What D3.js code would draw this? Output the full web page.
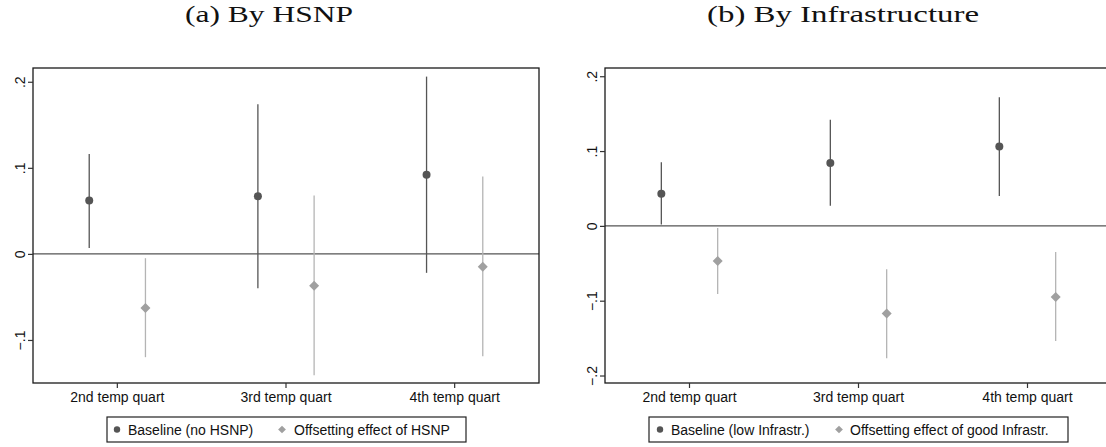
<!DOCTYPE html>
<html>
<head>
<meta charset="utf-8">
<script src="https://cdn.jsdelivr.net/npm/d3@7"></script>
<style>
  body { margin: 0; background: #fff; }
  svg { display: block; }
</style>
</head>
<body>
<svg id="chart" width="1106" height="447"></svg>
<script>
const categories = ['2nd temp quart', '3rd temp quart', '4th temp quart']
const yTicks = [-0.2, -0.1, 0, 0.1, 0.2]

// (a) By HSNP
const hsnpBase = [0.062, 0.067, 0.092]
const hsnpBaseLo = [0.007, -0.040, -0.022]
const hsnpBaseHi = [0.116, 0.174, 0.206]
const hsnpOff = [-0.063, -0.037, -0.015]
const hsnpOffLo = [-0.120, -0.141, -0.119]
const hsnpOffHi = [-0.005, 0.068, 0.090]

// (b) By Infrastructure
const infBase = [0.043, 0.084, 0.106]
const infBaseLo = [0.002, 0.027, 0.040]
const infBaseHi = [0.085, 0.142, 0.172]
const infOff = [-0.047, -0.117, -0.095]
const infOffLo = [-0.091, -0.177, -0.154]
const infOffHi = [-0.003, -0.058, -0.035]

const DARK = '#555555'
const LIGHT = '#a0a0a0'
const LIGHT_LINE = '#b4b4b4'

const svg = d3.select('#chart')

function panel(opt) {
  const { x0, x1, yMin, yMax, title, titleX, titleW, legend, series } = opt
  const top = 68, bottom = 383

  const x = d3.scaleBand().domain(categories).range([x0, x1])
  const y = d3.scaleLinear().domain([yMin, yMax]).range([bottom, top])
  const off = x.bandwidth() / 6

  const g = svg.append('g')

  g.append('text')
    .attr('x', titleX).attr('y', 22)
    .attr('text-anchor', 'middle')
    .attr('textLength', titleW)
    .attr('lengthAdjust', 'spacingAndGlyphs')
    .style('font-family', '"Liberation Serif", "DejaVu Serif", serif')
    .style('font-size', '24px')
    .attr('fill', '#111')
    .text(title)

  // zero line
  g.append('line')
    .attr('x1', x0).attr('x2', x1)
    .attr('y1', y(0)).attr('y2', y(0))
    .attr('stroke', '#555').attr('stroke-width', 1.3)

  // series
  series.forEach((s, si) => {
    const dx = si === 0 ? -off : off
    const cx = d => x(d) + x.bandwidth() / 2 + dx
    const sg = g.append('g')

    sg.selectAll('line.ci')
      .data(categories)
      .join('line')
      .attr('class', 'ci')
      .attr('x1', cx).attr('x2', cx)
      .attr('y1', (d, i) => y(s.lo[i]))
      .attr('y2', (d, i) => y(s.hi[i]))
      .attr('stroke', s.line)
      .attr('stroke-width', 1.3)

    if (s.shape === 'circle') {
      sg.selectAll('circle')
        .data(categories)
        .join('circle')
        .attr('cx', cx)
        .attr('cy', (d, i) => y(s.est[i]))
        .attr('r', 4)
        .attr('fill', s.color)
    } else {
      sg.selectAll('path')
        .data(categories)
        .join('path')
        .attr('d', d3.symbol(d3.symbolSquare, 50))
        .attr('transform', (d, i) => `translate(${cx(d)},${y(s.est[i])}) rotate(45)`)
        .attr('fill', s.color)
    }
  })

  // frame
  g.append('rect')
    .attr('x', x0).attr('y', top)
    .attr('width', x1 - x0).attr('height', bottom - top)
    .attr('fill', 'none').attr('stroke', '#1a1a1a').attr('stroke-width', 1.3)

  // axes
  const yAxis = g.append('g')
    .attr('transform', `translate(${x0},0)`)
    .call(d3.axisLeft(y)
      .tickValues(yTicks.filter(t => t >= yMin && t <= yMax))
      .tickSize(5)
      .tickFormat(t => t === 0 ? '0' : d3.format('.1f')(t).replace('0.', '.')))
  yAxis.select('.domain').remove()
  yAxis.selectAll('.tick line').attr('stroke', '#333').attr('stroke-width', 1.2)
  yAxis.selectAll('.tick text')
    .attr('transform', 'rotate(-90)')
    .attr('x', 0).attr('y', -8)
    .attr('dy', 0)
    .attr('text-anchor', 'middle')
    .style('font-family', '"Liberation Sans", Arial, sans-serif')
    .style('font-size', '14px')
    .attr('fill', '#111')

  const xAxis = g.append('g')
    .attr('transform', `translate(0,${bottom})`)
    .call(d3.axisBottom(x).tickSize(5).tickPadding(4))
  xAxis.select('.domain').remove()
  xAxis.selectAll('.tick line').attr('stroke', '#333').attr('stroke-width', 1.2)
  xAxis.selectAll('.tick text')
    .style('font-family', '"Liberation Sans", Arial, sans-serif')
    .style('font-size', '14px')
    .attr('fill', '#111')

  // legend
  const lg = g.append('g')
  const lx0 = legend.x0, lx1 = legend.x1, ly0 = 417, ly1 = 442
  lg.append('rect')
    .attr('x', lx0).attr('y', ly0)
    .attr('width', lx1 - lx0).attr('height', ly1 - ly0)
    .attr('fill', '#fff').attr('stroke', '#222').attr('stroke-width', 1.2)
  const ly = (ly0 + ly1) / 2
  legend.items.forEach((it, i) => {
    if (i === 0) {
      lg.append('circle').attr('cx', it.mx).attr('cy', ly).attr('r', 3.2).attr('fill', DARK)
    } else {
      lg.append('path')
        .attr('d', d3.symbol(d3.symbolSquare, 30))
        .attr('transform', `translate(${it.mx},${ly}) rotate(45)`)
        .attr('fill', LIGHT)
    }
    lg.append('text')
      .attr('x', it.tx).attr('y', ly).attr('dy', '0.36em')
      .style('font-family', '"Liberation Sans", Arial, sans-serif')
      .style('font-size', '14px')
      .attr('fill', '#111')
      .text(it.label)
  })
}

panel({
  x0: 33, x1: 539, yMin: -0.150, yMax: 0.216,
  title: '(a) By HSNP', titleX: 269, titleW: 168,
  legend: {
    x0: 107, x1: 466,
    items: [
      { mx: 117, tx: 128, label: 'Baseline (no HSNP)' },
      { mx: 282, tx: 294, label: 'Offsetting effect of HSNP' }
    ]
  },
  series: [
    { est: hsnpBase, lo: hsnpBaseLo, hi: hsnpBaseHi, shape: 'circle', color: DARK, line: DARK },
    { est: hsnpOff, lo: hsnpOffLo, hi: hsnpOffHi, shape: 'diamond', color: LIGHT, line: LIGHT_LINE }
  ]
})

panel({
  x0: 605, x1: 1112, yMin: -0.210, yMax: 0.211,
  title: '(b) By Infrastructure', titleX: 843, titleW: 272,
  legend: {
    x0: 649, x1: 1068,
    items: [
      { mx: 660, tx: 671, label: 'Baseline (low Infrastr.)' },
      { mx: 839, tx: 850, label: 'Offsetting effect of good Infrastr.' }
    ]
  },
  series: [
    { est: infBase, lo: infBaseLo, hi: infBaseHi, shape: 'circle', color: DARK, line: DARK },
    { est: infOff, lo: infOffLo, hi: infOffHi, shape: 'diamond', color: LIGHT, line: LIGHT_LINE }
  ]
})
</script>
</body>
</html>
